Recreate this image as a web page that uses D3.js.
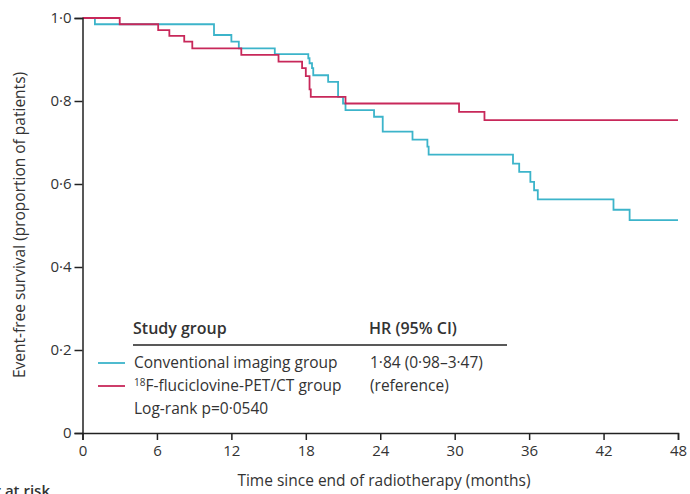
<!DOCTYPE html>
<html>
<head>
<meta charset="utf-8">
<script src="https://cdn.jsdelivr.net/npm/d3@7"></script>
<style>
  body { margin: 0; background: #fff; }
  svg { font-family: "Open Sans", "Noto Sans", sans-serif; }
</style>
</head>
<body>
<svg width="690" height="494"></svg>
<script>
// Kaplan-Meier step data
var convTimes = [0, 1.0, 10.6, 12.0, 12.6, 15.5, 18.2, 18.3, 18.5, 18.6, 19.8, 20.6, 21.0, 21.2, 23.5, 24.2, 26.6, 27.8, 27.9, 34.7, 35.2, 36.1, 36.4, 36.7, 42.8, 44.1, 48];
var convSurv = [1.0, 0.985, 0.959, 0.943, 0.927, 0.913, 0.903, 0.891, 0.879, 0.862, 0.846, 0.810, 0.794, 0.778, 0.762, 0.726, 0.707, 0.690, 0.671, 0.649, 0.629, 0.605, 0.585, 0.563, 0.538, 0.513, 0.513];

var petTimes = [0, 3.0, 6.1, 7.0, 8.2, 8.85, 12.8, 15.8, 17.7, 18.0, 18.3, 18.4, 21.2, 30.35, 32.4, 48];
var petSurv = [1.0, 0.985, 0.971, 0.957, 0.943, 0.927, 0.911, 0.895, 0.879, 0.860, 0.828, 0.810, 0.794, 0.774, 0.754, 0.754];

var xTicks = [0, 6, 12, 18, 24, 30, 36, 42, 48];
var yTicks = [0, 0.2, 0.4, 0.6, 0.8, 1.0];

var cyan = '#3cb4ca', crimson = '#c8285a', ink = '#333';

var svg = d3.select('svg');

var x = d3.scaleLinear().domain([0, 48]).range([82.5, 678]);
var y = d3.scaleLinear().domain([0, 1]).range([433, 18]);

// curves
var line = d3.line()
  .x(function (d) { return x(d[0]); })
  .y(function (d) { return y(d[1]); })
  .curve(d3.curveStepAfter);

svg.append('path')
   .datum(d3.zip(convTimes, convSurv))
   .attr('d', line)
   .attr('fill', 'none')
   .attr('stroke', cyan)
   .attr('stroke-width', 1.8);

svg.append('path')
   .datum(d3.zip(petTimes, petSurv))
   .attr('d', line)
   .attr('fill', 'none')
   .attr('stroke', crimson)
   .attr('stroke-width', 1.8);

// axes
var fmt = function (d) { return d === 0 ? '0' : d3.format('.1f')(d).replace('.', '·'); };

var gy = svg.append('g')
   .attr('transform', 'translate(' + x(0) + ',0)')
   .call(d3.axisLeft(y).tickValues(yTicks).tickFormat(fmt).tickSize(8).tickPadding(3));

var gx = svg.append('g')
   .attr('transform', 'translate(0,' + y(0) + ')')
   .call(d3.axisBottom(x).tickValues(xTicks).tickSize(7).tickPadding(5));

[gx, gy].forEach(function (g) {
  g.select('.domain').attr('stroke', '#222').attr('stroke-width', 1.5);
  g.selectAll('.tick line').attr('stroke', '#222').attr('stroke-width', 1.5);
  g.selectAll('.tick text')
   .attr('fill', ink)
   .attr('font-family', '"Open Sans", sans-serif')
   .attr('font-size', '15px');
});

// axis titles
svg.append('text')
   .attr('x', 384)
   .attr('y', 486)
   .attr('text-anchor', 'middle')
   .attr('font-size', '15.5px')
   .attr('fill', ink)
   .text('Time since end of radiotherapy (months)');

svg.append('text')
   .attr('transform', 'translate(25,225) rotate(-90)')
   .attr('text-anchor', 'middle')
   .attr('font-size', '15.5px')
   .attr('fill', ink)
   .text('Event-free survival (proportion of patients)');

svg.append('text')
   .attr('x', 50)
   .attr('y', 496)
   .attr('text-anchor', 'end')
   .attr('font-size', '15px')
   .attr('font-weight', 600)
   .attr('fill', ink)
   .text('Number at risk');

// legend table
svg.append('text')
   .attr('x', 133).attr('y', 334)
   .attr('font-size', '16px').attr('font-weight', 600).attr('fill', ink)
   .text('Study group');
svg.append('text')
   .attr('x', 369).attr('y', 334)
   .attr('font-size', '16px').attr('font-weight', 600).attr('fill', ink)
   .text('HR (95% CI)');
svg.append('line')
   .attr('x1', 133).attr('x2', 507)
   .attr('y1', 345).attr('y2', 345)
   .attr('stroke', '#222').attr('stroke-width', 1.3);

var rows = [
  { color: cyan, label: 'Conventional imaging group', hr: '1·84 (0·98–3·47)', y: 368 },
  { color: crimson, label: null, hr: '(reference)', y: 391 }
];

rows.forEach(function (r) {
  svg.append('line')
     .attr('x1', 98).attr('x2', 125)
     .attr('y1', r.y - 5).attr('y2', r.y - 5)
     .attr('stroke', r.color).attr('stroke-width', 1.8);
  var t = svg.append('text')
     .attr('x', 134).attr('y', r.y)
     .attr('font-size', '15.5px').attr('fill', ink);
  if (r.label) {
    t.text(r.label);
  } else {
    t.append('tspan').attr('font-size', '10px').attr('dy', -5).text('18');
    t.append('tspan').attr('dy', 5).text('F-fluciclovine-PET/CT group');
  }
  svg.append('text')
     .attr('x', 370).attr('y', r.y)
     .attr('font-size', '15.5px').attr('fill', ink)
     .text(r.hr);
});

svg.append('text')
   .attr('x', 134).attr('y', 414)
   .attr('font-size', '15.5px').attr('fill', ink)
   .text('Log-rank p=0·0540');
</script>
</body>
</html>
